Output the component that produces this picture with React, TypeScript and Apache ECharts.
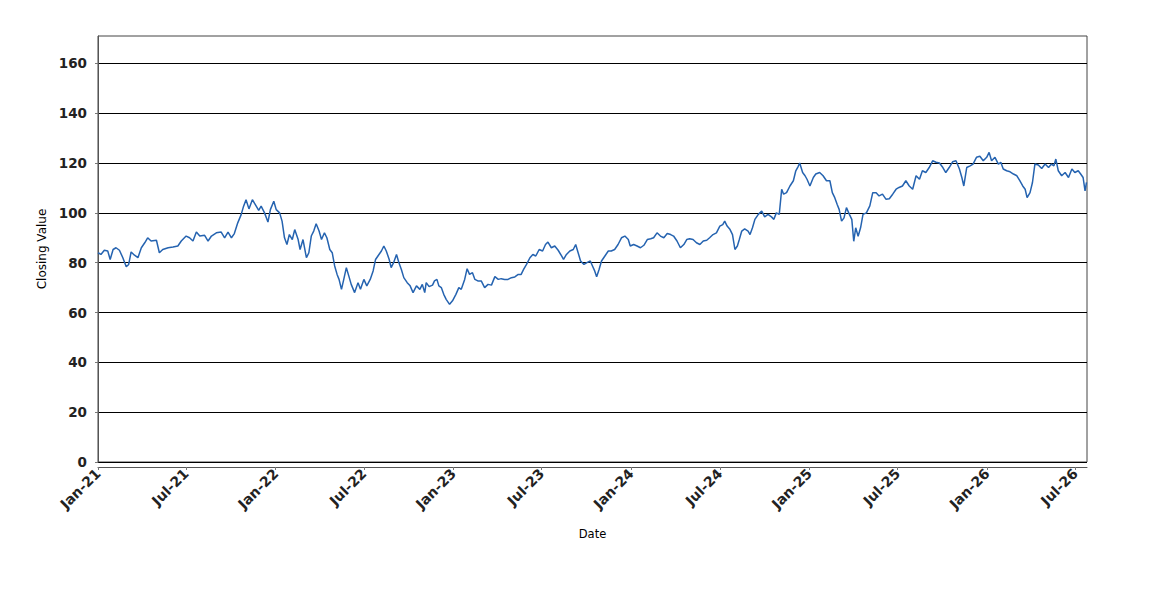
import React, { useEffect, useRef } from 'react';
import * as echarts from 'echarts';

// Day offsets are counted from this date
const START_DATE = '2021-01-01';
const END_DAY = 2031; // right edge of the plot (~2026-07-25)

const TICK_DATES = [
  '2021-01-01', '2021-07-01', '2022-01-01', '2022-07-01', '2023-01-01', '2023-07-01',
  '2024-01-01', '2024-07-01', '2025-01-01', '2025-07-01', '2026-01-01', '2026-07-01',
];
const TICK_LABELS = [
  'Jan-21', 'Jul-21', 'Jan-22', 'Jul-22', 'Jan-23', 'Jul-23',
  'Jan-24', 'Jul-24', 'Jan-25', 'Jul-25', 'Jan-26', 'Jul-26',
];
const Y_TICKS = [0, 20, 40, 60, 80, 100, 120, 140, 160];
const Y_MAX = 171;

// [day offset from START_DATE, closing value]
const CLOSES_2021_22: [number, number][] = [
  [0, 84], [6, 83.3], [13, 85], [20, 84.7], [25, 81.3], [31, 85.3], [37, 86], [44, 85], [51, 82],
  [58, 78.4], [63, 79.3], [68, 84.3], [75, 83], [82, 82], [89, 86], [96, 88], [102, 90], [109, 88.7],
  [120, 89], [126, 84], [133, 85.3], [144, 86], [154, 86.3], [164, 86.7], [171, 88.7], [181, 90.7],
  [188, 90], [195, 88.7], [202, 92.3], [209, 90.7], [219, 91], [226, 88.7], [233, 90.7], [243, 92],
  [253, 92.3], [260, 90], [267, 92.3], [274, 90], [280, 91.7], [287, 96], [294, 99.3], [299, 102.7],
  [304, 105.3], [310, 101.6], [317, 105.3], [324, 103], [330, 101], [335, 102.7], [342, 100], [349, 96.3],
  [354, 101.3], [361, 104.7], [366, 101.3], [373, 100], [378, 96.7], [383, 90], [388, 87.3], [393, 91.3],
  [399, 89.3], [404, 93.3], [411, 89.3], [415, 85.3], [421, 89.3], [428, 82], [433, 84], [438, 90.7],
  [443, 92.7], [448, 95.6], [454, 92.7], [459, 89.3], [465, 92], [470, 90], [476, 85.3], [481, 84],
  [486, 78.7], [491, 75.3], [495, 73.3], [500, 69.3], [504, 72.7], [510, 78], [515, 74.7], [520, 71.3],
  [527, 68], [534, 72], [539, 69.3], [546, 73.3], [552, 70.7], [559, 73.3], [565, 76.7], [570, 81.3],
  [577, 83.3], [582, 84.7], [587, 86.7], [592, 84.7], [598, 81.3], [602, 78], [607, 80], [613, 83.3],
  [618, 80], [623, 77.3], [628, 74], [635, 72], [641, 70.7], [647, 68], [654, 70.7], [661, 69.3],
];
const CLOSES_2023_24: [number, number][] = [
  [666, 71.3], [671, 68], [674, 72], [680, 70.4], [687, 71], [691, 72.7], [696, 73.3], [700, 70.7],
  [705, 70], [710, 67.3], [715, 65.3], [722, 63.3], [728, 64.7], [735, 67.3], [741, 70], [746, 69.3],
  [753, 73.3], [758, 77.6], [763, 75.3], [769, 76], [774, 73.3], [780, 72.7], [787, 72.7], [794, 70],
  [801, 71.3], [808, 71], [815, 74.4], [822, 73.3], [828, 73.6], [835, 73.3], [842, 73.3], [849, 74],
  [856, 74.3], [863, 75.3], [869, 75.3], [874, 77.3], [880, 79.3], [887, 82], [893, 83.3], [899, 82.7],
  [906, 85.3], [913, 84.7], [919, 87.3], [924, 88.3], [931, 86], [938, 86.7], [945, 85], [952, 82.7],
  [956, 81.3], [962, 83.3], [969, 84.7], [976, 85.3], [981, 87.3], [986, 84], [991, 80.7], [998, 79.3],
  [1004, 80], [1011, 80.7], [1015, 78.9], [1020, 76.7], [1024, 74.4], [1029, 77.3], [1034, 80.7],
  [1041, 82.7], [1048, 84.7], [1054, 84.7], [1061, 85.3], [1068, 87.3], [1075, 90], [1082, 90.7],
  [1089, 89.3], [1093, 86.7], [1100, 87.3], [1107, 86.7], [1114, 86], [1121, 87], [1128, 89.3],
  [1135, 89.6], [1141, 90], [1148, 92], [1155, 90.7], [1162, 90], [1169, 91.7], [1176, 91.3],
  [1182, 90.7], [1189, 88.7], [1196, 86], [1203, 87.3], [1209, 89.3], [1215, 89.6], [1222, 89.3],
  [1229, 88], [1236, 87.3], [1243, 88.7], [1250, 89], [1256, 90], [1263, 91.3], [1270, 92],
  [1277, 94.7], [1283, 95.3], [1287, 96.7], [1292, 94.7], [1298, 93.3], [1303, 91.3], [1308, 85.3],
  [1313, 86.7], [1317, 89.3], [1322, 92.7], [1328, 93.6], [1335, 92.7],
];
const CLOSES_2024_26: [number, number][] = [
  [1339, 91.3], [1344, 94], [1349, 97.4], [1356, 99.4], [1363, 100.7], [1369, 98.4], [1376, 99.4],
  [1383, 98.4], [1388, 97.4], [1393, 100], [1399, 99.4], [1404, 109.5], [1408, 107.5], [1414, 108.1],
  [1421, 110.8], [1428, 112.9], [1433, 116.9], [1438, 118.7], [1441, 120], [1447, 116.2], [1452, 114.9],
  [1456, 113.5], [1462, 110.8], [1469, 114.2], [1474, 115.6], [1482, 116.2], [1489, 114.9], [1496, 112.9],
  [1503, 112.9], [1508, 108.1], [1513, 106.1], [1518, 103.4], [1522, 101.4], [1527, 96.7], [1532, 98],
  [1537, 102.1], [1543, 99.4], [1548, 97.4], [1552, 88.6], [1556, 94], [1561, 90.6], [1566, 94],
  [1571, 99.4], [1578, 100], [1585, 102.8], [1591, 108.1], [1598, 108.1], [1604, 106.8], [1611, 107.5],
  [1618, 105.5], [1625, 105.7], [1632, 107.5], [1639, 109.5], [1645, 110.2], [1652, 110.8], [1659, 112.9],
  [1666, 110.8], [1673, 109.5], [1680, 114.9], [1687, 113.5], [1693, 116.9], [1700, 116.2], [1707, 118.2],
  [1714, 120.9], [1721, 120.3], [1728, 120], [1735, 118.2], [1741, 116.2], [1748, 118.2], [1755, 120.5],
  [1762, 120.9], [1769, 117.6], [1774, 114.2], [1778, 110.8], [1784, 118.2], [1791, 118.9], [1797, 119.6],
  [1804, 122.3], [1811, 122.7], [1818, 120.9], [1825, 122.3], [1830, 124.3], [1835, 120.9], [1842, 122.3],
  [1849, 119.6], [1854, 120.3], [1859, 117.6], [1866, 116.9], [1873, 116.5], [1880, 115.6], [1887, 114.9],
  [1893, 112.9], [1899, 110.8], [1904, 109.5], [1908, 106.1], [1914, 108.1], [1919, 112.2], [1924, 119.6],
  [1931, 119.2], [1938, 117.8], [1945, 119.6], [1952, 118.2], [1958, 119.6], [1963, 118.9], [1967, 121.6],
  [1972, 116.9], [1979, 114.9], [1986, 116.2], [1993, 114.2], [2000, 117.6], [2006, 116.2], [2013, 116.9],
  [2018, 115.6], [2023, 114.2], [2027, 108.8], [2030, 112.2],
];

function dayOf(iso: string): number {
  const [y, m, d] = iso.split('-').map(Number);
  const [y0, m0, d0] = START_DATE.split('-').map(Number);
  return Math.round((Date.UTC(y, m - 1, d) - Date.UTC(y0, m0 - 1, d0)) / 86400000);
}

const TICK_DAYS = TICK_DATES.map(dayOf);
const SERIES_DATA = [...CLOSES_2021_22, ...CLOSES_2023_24, ...CLOSES_2024_26];

export default function App() {
  const ref = useRef<HTMLDivElement>(null);

  useEffect(() => {
    if (!ref.current) return;
    const chart = echarts.init(ref.current, undefined, { renderer: 'svg' });
    const labelFont = {
      fontFamily: 'DejaVu Sans',
      fontWeight: 'bold' as const,
      color: '#222',
    };
    chart.setOption({
      animation: false,
      backgroundColor: '#ffffff',
      grid: {
        left: 98,
        right: 63,
        top: 36,
        bottom: 138,
        show: true,
        borderColor: '#444',
        borderWidth: 1,
        backgroundColor: '#ffffff',
      },
      xAxis: {
        type: 'value',
        min: 0,
        max: END_DAY,
        offset: 5,
        name: 'Date',
        nameLocation: 'middle',
        nameGap: 61,
        nameTextStyle: { fontFamily: 'DejaVu Sans', fontSize: 11.5, color: '#000' },
        axisLine: { show: true, onZero: false, lineStyle: { color: '#555', width: 1 } },
        axisTick: {
          show: true,
          customValues: TICK_DAYS,
          length: 3,
          lineStyle: { color: '#777' },
        },
        axisLabel: {
          ...labelFont,
          fontSize: 14,
          customValues: TICK_DAYS,
          rotate: 45,
          margin: 4,
          formatter: (v: number) => {
            const i = TICK_DAYS.indexOf(Math.round(v));
            return i >= 0 ? TICK_LABELS[i] : '';
          },
        },
        splitLine: { show: false },
      },
      yAxis: {
        type: 'value',
        min: 0,
        max: Y_MAX,
        interval: 20,
        offset: 4,
        name: 'Closing Value',
        nameLocation: 'middle',
        nameGap: 41,
        nameTextStyle: { fontFamily: 'DejaVu Sans', fontSize: 12, color: '#000' },
        axisLine: { show: true, lineStyle: { color: '#555', width: 1 } },
        axisTick: {
          show: true,
          customValues: Y_TICKS,
          length: 3,
          lineStyle: { color: '#777' },
        },
        axisLabel: {
          ...labelFont,
          fontSize: 13.5,
          customValues: Y_TICKS,
          margin: 7,
        },
        splitLine: { show: true, lineStyle: { color: '#000', width: 1 } },
      },
      series: [
        {
          type: 'line',
          data: SERIES_DATA,
          showSymbol: false,
          symbol: 'none',
          lineStyle: { color: '#2563b0', width: 1.5 },
          itemStyle: { color: '#2563b0' },
        },
      ],
    });
    return () => chart.dispose();
  }, []);

  return (
    <div
      ref={ref}
      style={{ position: 'absolute', left: 0, top: 0, width: 1150, height: 600, background: '#fff' }}
    />
  );
}
